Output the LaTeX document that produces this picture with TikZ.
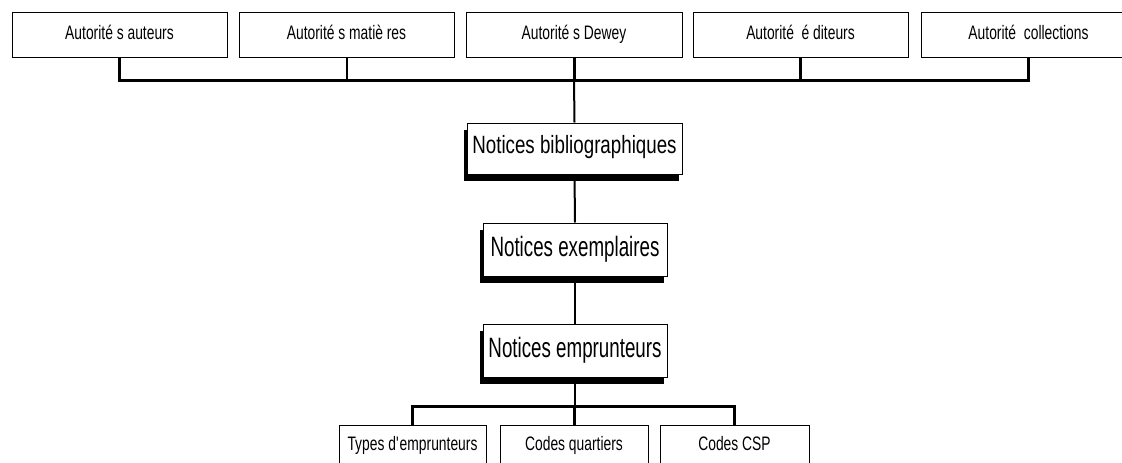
\documentclass[tikz,border=0pt]{standalone}
\usepackage{fontspec}
\newfontfamily\fsmall[FakeStretch=0.71]{Liberation Sans}
\newfontfamily\fnb[FakeStretch=0.75]{Liberation Sans}
\newfontfamily\fne[FakeStretch=0.67]{Liberation Sans}
\usetikzlibrary{shadows}
\begin{document}
\begin{tikzpicture}[x=1pt,y=-1pt,
  box/.style={draw=black,line width=1pt,fill=white,inner sep=0pt,
    font=\fsmall\fontsize{19.5}{21}\selectfont,text height=14pt,text depth=5pt},
  topbox/.style={box,minimum width=215pt,minimum height=45pt},
  botbox/.style={box,minimum height=45pt,text depth=9pt},
  bigbox/.style={box,drop shadow={shadow xshift=-3pt,shadow yshift=-7pt,fill=black,opacity=1}},
  nbbox/.style={bigbox,font=\fnb\fontsize{25}{27}\selectfont,text height=18pt,text depth=9pt},
  nebox/.style={bigbox,font=\fne\fontsize{28}{30}\selectfont,text height=20pt,text depth=7pt},
  bus/.style={line width=3pt},
  thin/.style={line width=2pt}]
\clip (0,0) rectangle (1122,463);
\fill[white] (0,0) rectangle (1122,463);
% top authority boxes
\node[topbox] (a1) at (119.5,34.5) {Autorité s auteurs};
\node[topbox] (a2) at (346.5,34.5) {Autorité s matiè res};
\node[topbox,minimum width=216pt] (a3) at (574,34.5) {Autorité s Dewey};
\node[topbox] (a4) at (800.5,34.5) {Autorité\ \ é diteurs};
\node[topbox] (a5) at (1028.5,34.5) {Autorité\ \ collections};
% central boxes
\node[nbbox,minimum width=215pt,minimum height=51pt] (nb) at (574.5,148.5) {Notices bibliographiques};
\node[nebox,minimum width=184pt,minimum height=53pt] (ne) at (575,249.5) {Notices exemplaires};
\node[nebox,minimum width=184pt,minimum height=53pt] (nm) at (575,350.5) {Notices emprunteurs};
% bottom boxes
\node[botbox,minimum width=147pt] (b1) at (412.5,447.5) {Types d\textquotesingle emprunteurs};
\node[botbox,minimum width=148pt] (b2) at (574,447.5) {Codes quartiers};
\node[botbox,minimum width=149pt] (b3) at (734.5,447.5) {Codes CSP};
% top bus
\coordinate (tbus) at (0,80);
\draw[bus] (a1.south) -- (a1.south |- tbus) -- (a5.south |- tbus) -- (a5.south);
\draw[thin] (a2.south) -- (a2.south |- tbus);
\draw[bus] (a3.south) -- (a3.south |- tbus);
\draw[bus] (a4.south) -- (a4.south |- tbus);
% trunk
\draw[thin] (a3.south |- tbus) -- (nb.north);
\draw[thin] (nb.south) -- (ne.north);
\draw[thin] (ne.south) -- (nm.north);
% bottom bus
\coordinate (bbus) at (0,406);
\draw[thin] (nm.south) -- (nm.south |- bbus);
\draw[bus] (b1.north) -- (b1.north |- bbus) -- (b3.north |- bbus) -- (b3.north);
\draw[bus] (b2.north) -- (b2.north |- bbus);
\end{tikzpicture}
\end{document}
